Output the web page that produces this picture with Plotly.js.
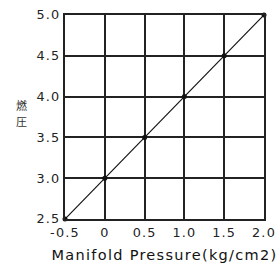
<!DOCTYPE html>
<html>
<head>
<meta charset="utf-8">
<script src="https://cdn.plot.ly/plotly-3.0.1.min.js"></script>
<style>
html, body { margin: 0; padding: 0; background: #fff; }
#chart { width: 277px; height: 266px; }
.xtick text, .ytick text { letter-spacing: 1.2px; }
.g-xtitle text { letter-spacing: 1.3px; }
</style>
</head>
<body>
<div id="chart"></div>
<script>
const pressure = [-0.5, 0, 0.5, 1.0, 1.5, 2.0];
const fuelPressure = [2.5, 3.0, 3.5, 4.0, 4.5, 5.0];
const xTickVals = [-0.5, 0, 0.5, 1.0, 1.5, 2.0];
const xTickText = ["-0.5", "0", "0.5", "1.0", "1.5", "2.0"];
const yTickVals = [2.5, 3.0, 3.5, 4.0, 4.5, 5.0];
const yTickText = ["2.5", "3.0", "3.5", "4.0", "4.5", "5.0"];
const xTitle = "Manifold Pressure(kg/cm2)";
const yTitleChars = ["燃", "圧"];

const trace = {
  x: pressure,
  y: fuelPressure,
  type: "scatter",
  mode: "lines+markers",
  line: { color: "#111", width: 1.2 },
  marker: { color: "#111", size: 5 },
  cliponaxis: false,
  hoverinfo: "skip"
};

const axisCommon = {
  showgrid: true,
  gridcolor: "#222",
  gridwidth: 2,
  showline: true,
  linecolor: "#222",
  linewidth: 2,
  mirror: true,
  zeroline: false,
  ticks: "",
  tickfont: { family: "DejaVu Sans, sans-serif", size: 12.8, color: "#222" },
  fixedrange: true
};

const titlePos = [0.558, 0.482];

const layout = {
  width: 277,
  height: 266,
  margin: { l: 65, r: 13, t: 15, b: 47 },
  paper_bgcolor: "#fff",
  plot_bgcolor: "#fff",
  showlegend: false,
  xaxis: Object.assign({}, axisCommon, {
    range: [-0.5, 2.0],
    tickmode: "array",
    tickvals: xTickVals,
    ticktext: xTickText,
    ticklabelstandoff: 1,
    title: { text: xTitle, font: { family: "DejaVu Sans, sans-serif", size: 14.5, color: "#111" }, standoff: 10 }
  }),
  yaxis: Object.assign({}, axisCommon, {
    range: [2.5, 5.0],
    tickmode: "array",
    tickvals: yTickVals,
    ticktext: yTickText,
    ticklabelstandoff: 0
  }),
  annotations: yTitleChars.map((c, i) => ({
    text: c,
    xref: "paper", yref: "paper",
    x: -0.221, y: titlePos[i],
    xanchor: "center", yanchor: "middle",
    showarrow: false,
    borderpad: 0,
    font: { family: "Noto Sans CJK JP, sans-serif", size: 11, color: "#333" }
  }))
};

Plotly.newPlot("chart", [trace], layout, { displayModeBar: false, staticPlot: true });
</script>
</body>
</html>
